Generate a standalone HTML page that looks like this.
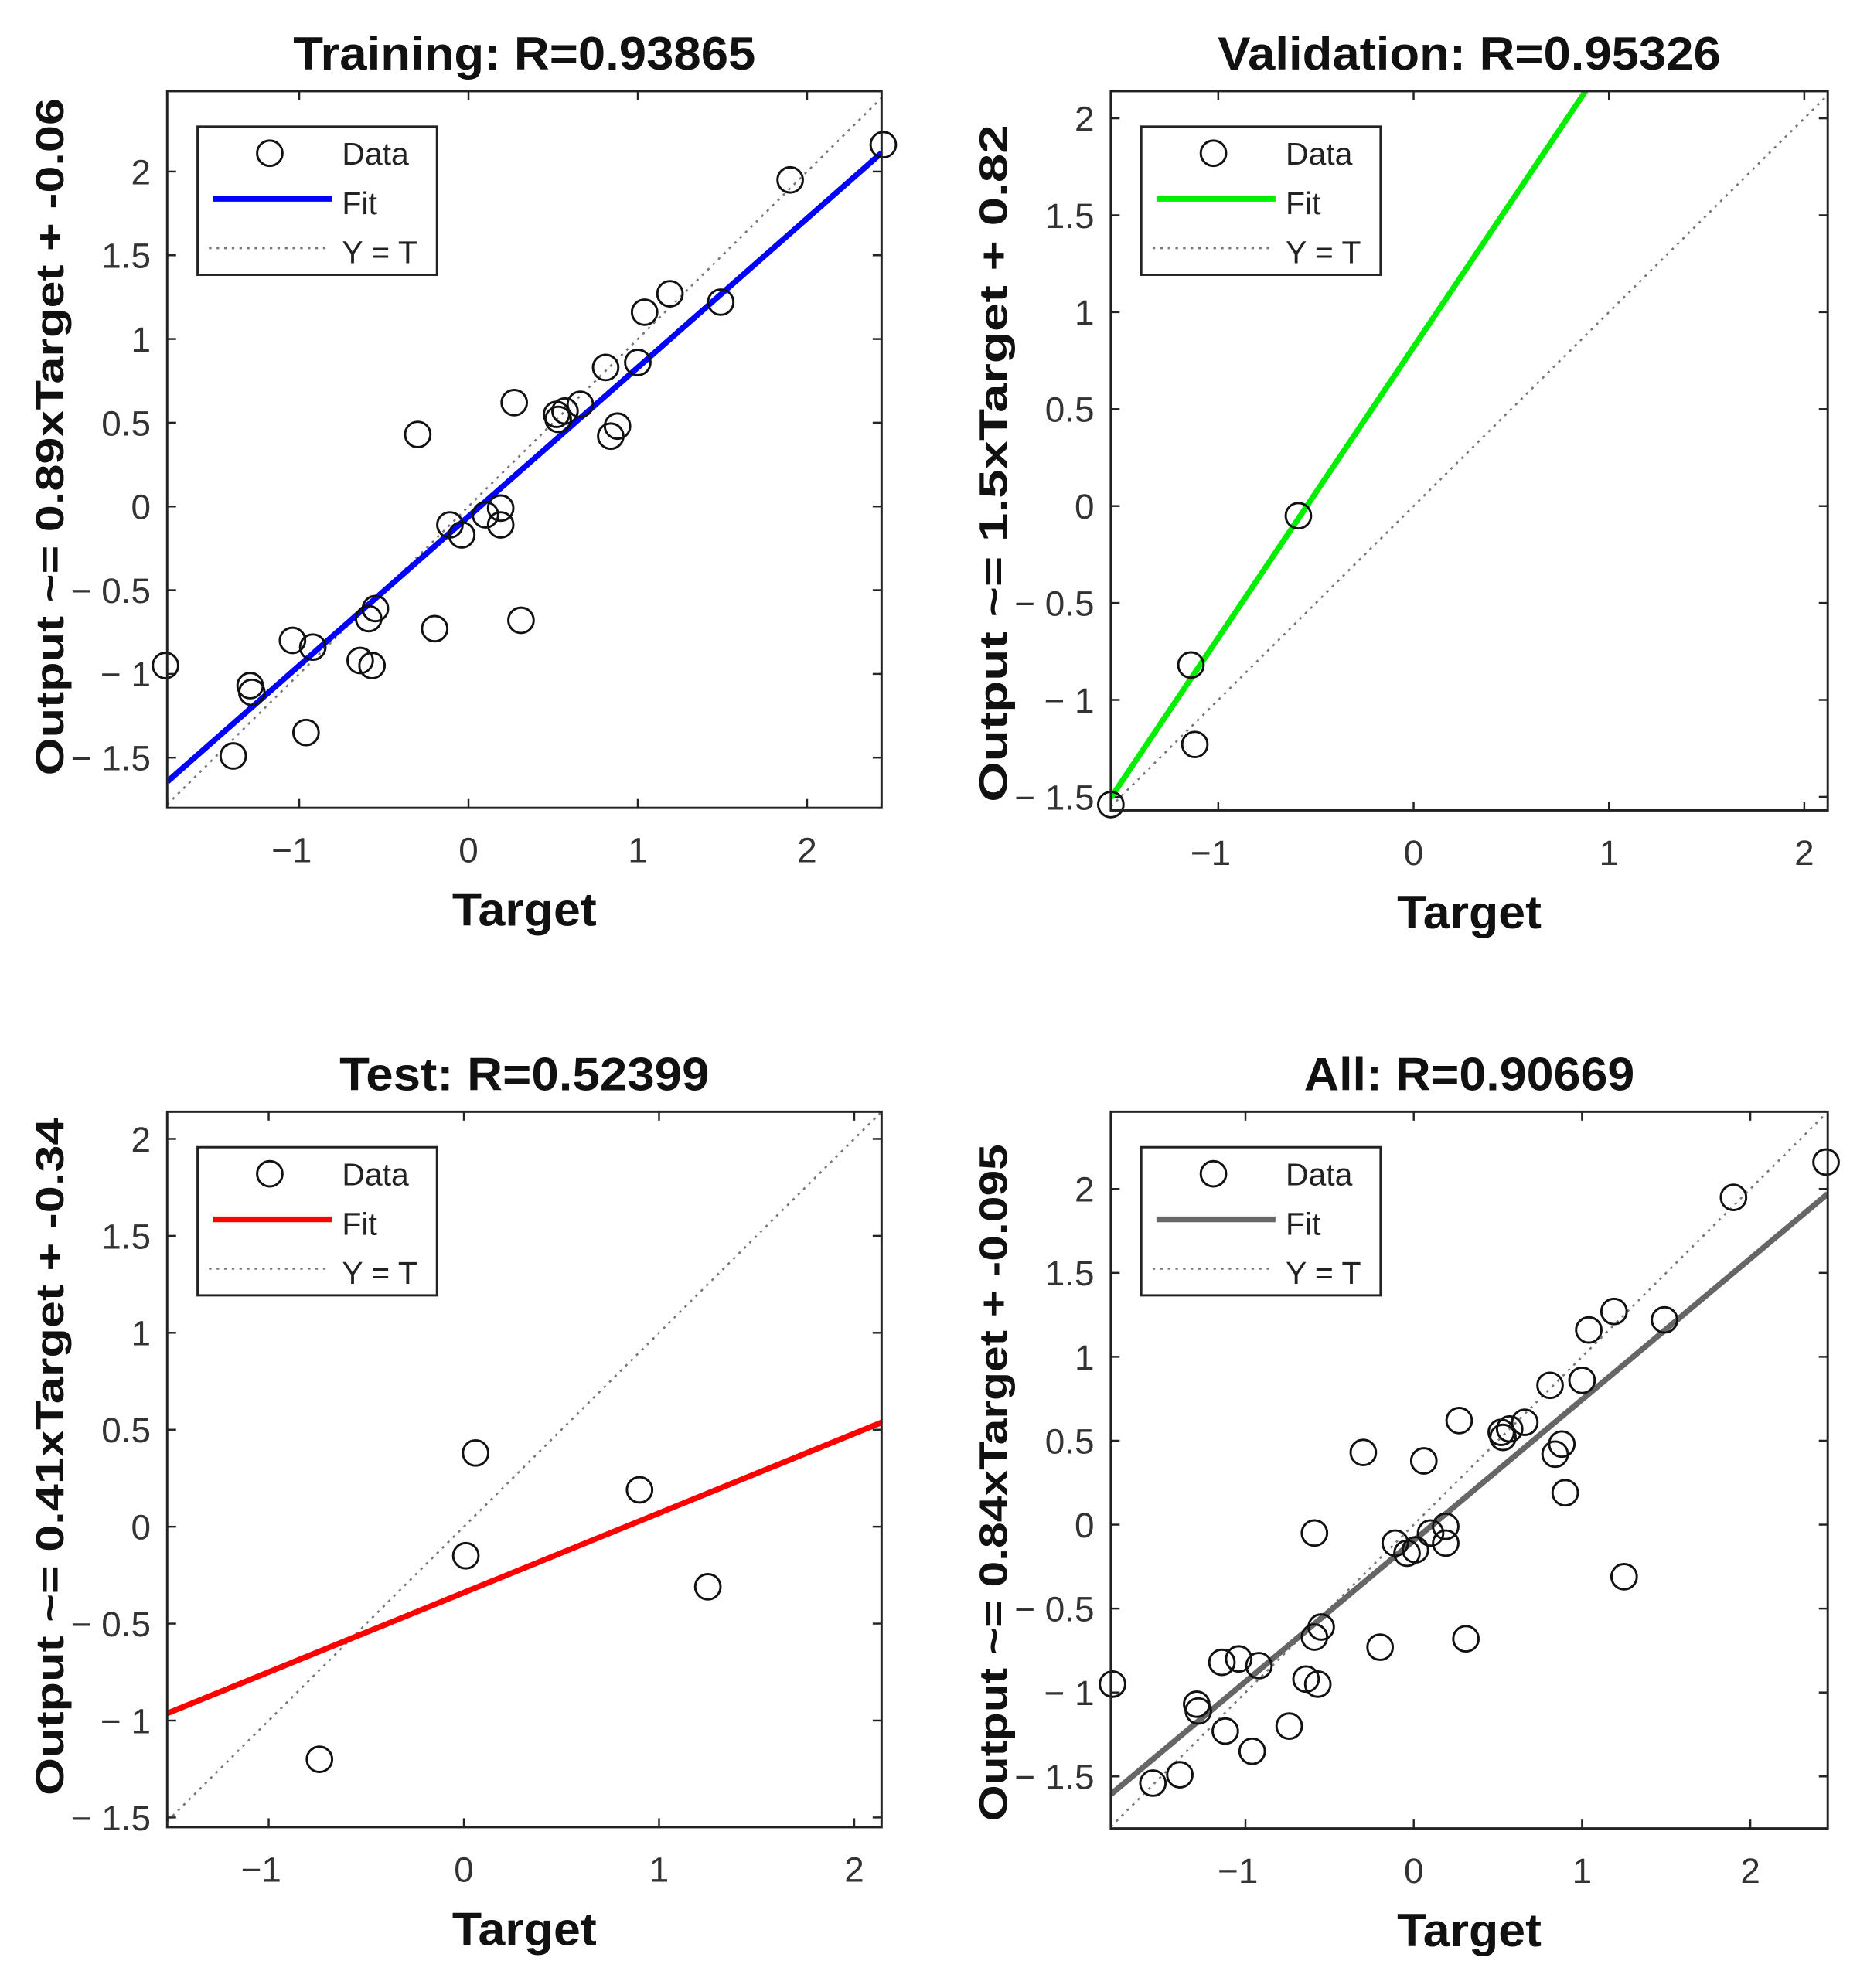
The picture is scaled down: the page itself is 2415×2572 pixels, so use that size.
<!DOCTYPE html>
<html><head><meta charset="utf-8"><style>
html,body{margin:0;padding:0;background:#fff;}
svg{display:block;}
text{font-family:"Liberation Sans",Arial,sans-serif;}
</style></head><body>
<svg id="fig" width="2415" height="2572" viewBox="0 0 1474 1570" preserveAspectRatio="none" xmlns="http://www.w3.org/2000/svg"></svg>
<script>
// ---- data ----
const trainTargets = [2.45,1.90,1.49,1.19,1.04,1.00,0.81,0.88,0.84,0.66,0.57,0.52,0.53,0.27,-0.30,0.19,0.19,0.10,-0.11,-0.04,-0.55,-0.59,-0.64,-0.57,-0.20,0.31,-1.04,-0.92,-1.29,-1.28,-0.96,-1.39,-1.79];
const trainOutputs = [2.16,1.95,1.22,1.27,1.16,0.86,0.83,0.48,0.42,0.61,0.57,0.55,0.52,0.62,0.43,-0.01,-0.11,-0.05,-0.11,-0.17,-0.61,-0.67,-0.92,-0.95,-0.73,-0.68,-0.80,-0.84,-1.07,-1.11,-1.35,-1.49,-0.95];
const valTargets = [-0.59,-1.14,-1.12,-1.55];
const valOutputs = [-0.05,-0.82,-1.23,-1.54];
const testTargets = [0.06,0.01,0.90,1.25,-0.74];
const testOutputs = [0.38,-0.15,0.19,-0.31,-1.20];
const fitSlopes = [0.89,1.5,0.41,0.84];
const fitIntercepts = [-0.06,0.82,-0.34,-0.095];
const titles = ["Training: R=0.93865","Validation: R=0.95326","Test: R=0.52399","All: R=0.90669"];
const yLabels = ["Output ~= 0.89xTarget + -0.06","Output ~= 1.5xTarget + 0.82","Output ~= 0.41xTarget + -0.34","Output ~= 0.84xTarget + -0.095"];
const xTickVals = [-1,0,1,2];
const yTickVals = [2,1.5,1,0.5,0,-0.5,-1,-1.5];
const allTargets = trainTargets.concat(valTargets, testTargets);
const allOutputs = trainOutputs.concat(valOutputs, testOutputs);

const NS="http://www.w3.org/2000/svg";
const svg=document.getElementById('fig');
function mk(tag,attrs,parent){const e=document.createElementNS(NS,tag);for(const k in attrs)e.setAttribute(k,attrs[k]);(parent||svg).appendChild(e);return e;}

const titleWidths=[365,397,292,261];
const panels=[
 {x0:132,x1:696,y0:72,y1:638,xmin:-1.78,xmax:2.44,ymin:-1.8,ymax:2.48,color:"#0000ff",tx:trainTargets,ty:trainOutputs,key:"training"},
 {x0:877,x1:1443,y0:72,y1:640,xmin:-1.55,xmax:2.12,ymin:-1.57,ymax:2.14,color:"#00ee00",tx:valTargets,ty:valOutputs,key:"validation"},
 {x0:132,x1:696,y0:878,y1:1443,xmin:-1.52,xmax:2.14,ymin:-1.55,ymax:2.14,color:"#ff0000",tx:testTargets,ty:testOutputs,key:"test"},
 {x0:877,x1:1443,y0:878,y1:1444,xmin:-1.8,xmax:2.46,ymin:-1.81,ymax:2.46,color:"#666666",tx:allTargets,ty:allOutputs,key:"all"}
];

panels.forEach((p,i)=>{
 const g=mk('g',{});
 
 
 const sx=v=>p.x0+(v-p.xmin)/(p.xmax-p.xmin)*(p.x1-p.x0);
 const sy=v=>p.y1-(v-p.ymin)/(p.ymax-p.ymin)*(p.y1-p.y0);
 const cid='clip'+i;
 const cp=mk('clipPath',{id:cid},g);mk('rect',{x:p.x0,y:p.y0,width:p.x1-p.x0,height:p.y1-p.y0},cp);
 const t=mk('text',{x:(p.x0+p.x1)/2,y:p.y0-17,'text-anchor':'middle','font-size':37,'font-weight':'bold',fill:'#111',textLength:titleWidths[i],lengthAdjust:'spacingAndGlyphs'},g);
 t.textContent=titles[i];
 
 
 const xl=mk('text',{x:(p.x0+p.x1)/2,y:p.y1+93,'text-anchor':'middle','font-size':37,'font-weight':'bold',fill:'#111',textLength:114,lengthAdjust:'spacingAndGlyphs'},g);
 xl.textContent="Target";
 
 
 const cy=(p.y0+p.y1)/2+(i%2?10:-10);
 const yl=mk('text',{x:0,y:0,transform:`translate(${p.x0-82},${cy}) rotate(-90)`,'text-anchor':'middle','font-size':31,'font-weight':'bold',fill:'#111',textLength:535,lengthAdjust:'spacingAndGlyphs'},g);
 yl.textContent=yLabels[i];
 
 
 xTickVals.forEach(v=>{
  const x=sx(v);
  mk('line',{x1:x,x2:x,y1:p.y1,y2:p.y1-7,stroke:'#222','stroke-width':1.5},g);
  mk('line',{x1:x,x2:x,y1:p.y0,y2:p.y0+7,stroke:'#222','stroke-width':1.5},g);
  const tl=mk('text',{x:x-(v<0?6:0),y:p.y1+43,'text-anchor':'middle','font-size':28,fill:'#333'},g);
  tl.textContent=v<0?('\u2212'+Math.abs(v)):String(v);
  
  
 });
 yTickVals.forEach(v=>{
  const y=sy(v);
  if(y<p.y0-2||y>p.y1+2)return;
  mk('line',{x1:p.x0,x2:p.x0+7,y1:y,y2:y,stroke:'#222','stroke-width':1.5},g);
  mk('line',{x1:p.x1,x2:p.x1-7,y1:y,y2:y,stroke:'#222','stroke-width':1.5},g);
  const tl=mk('text',{x:p.x0-13,y:y+10,'text-anchor':'end','font-size':28,fill:'#333'},g);
  tl.textContent=v<0?('\u2212 '+Math.abs(v)):String(v);
  
  
 });
 const inner=mk('g',{'clip-path':`url(#${cid})`},g);
 const lo=Math.max(p.xmin,p.ymin),hi=Math.min(p.xmax,p.ymax);
 const idl=mk('line',{x1:sx(lo),y1:sy(lo),x2:sx(hi),y2:sy(hi),stroke:'#777','stroke-width':1.6,'stroke-dasharray':'2 4'},inner);
 
 
 const a=fitSlopes[i],b=fitIntercepts[i];
 const fl=mk('line',{x1:sx(p.xmin),y1:sy(a*p.xmin+b),x2:sx(p.xmax),y2:sy(a*p.xmax+b),stroke:p.color,'stroke-width':4.5},inner);
 
 
 p.tx.forEach((tv,j)=>{
  const c=mk('circle',{cx:sx(tv),cy:sy(p.ty[j]),r:10,fill:'none',stroke:'#111','stroke-width':1.8},g);
  
  
 });
 mk('rect',{x:p.x0,y:p.y0,width:p.x1-p.x0,height:p.y1-p.y0,fill:'none',stroke:'#222','stroke-width':1.8},g);
 const lx=p.x0+24,ly=p.y0+28;
 const lg=mk('g',{},g);
 
 
 mk('rect',{x:lx,y:ly,width:189,height:117,fill:'#fff',stroke:'#222','stroke-width':1.8},lg);
 mk('circle',{cx:lx+57,cy:ly+21,r:10,fill:'none',stroke:'#111','stroke-width':1.8},lg);
 mk('line',{x1:lx+12,x2:lx+106,y1:ly+57,y2:ly+57,stroke:p.color,'stroke-width':4.5},lg);
 mk('line',{x1:lx+9,x2:lx+104,y1:ly+96,y2:ly+96,stroke:'#777','stroke-width':1.6,'stroke-dasharray':'2 4'},lg);
 [["Data",30],["Fit",69],["Y = T",108]].forEach(([s,dy])=>{
  const tt=mk('text',{x:lx+114,y:ly+dy,'font-size':25,fill:'#222'},lg);
  tt.textContent=s;
  
  
 });
});
</script>
</body></html>
